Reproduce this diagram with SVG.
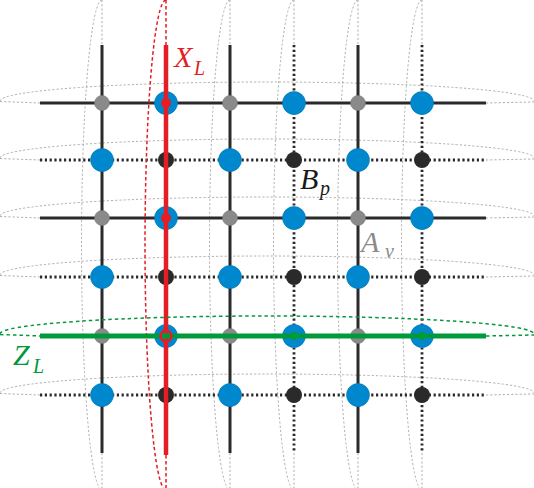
<svg xmlns="http://www.w3.org/2000/svg" width="534" height="488" viewBox="0 0 534 488">
<style>
.ell{fill:none;stroke:#9a9a9a;stroke-width:0.8;stroke-dasharray:2.2 2}
.ellr{fill:none;stroke:#e31e24;stroke-width:1.5;stroke-dasharray:3.5 2.5}
.ellg{fill:none;stroke:#00993c;stroke-width:1.5;stroke-dasharray:3.5 3}
.solid{stroke:#2a2a2a;stroke-width:3;fill:none}
.dot{stroke:#2a2a2a;stroke-width:2.8;fill:none;stroke-dasharray:2.2 2.6}
.b{fill:#0088cf;stroke:#0075b5;stroke-width:0.6}
.g{fill:#8a8a8a;stroke:#777;stroke-width:0.5}
.k{fill:#2a2a2a}
.lbl{font-family:"Liberation Serif","DejaVu Serif",serif;font-style:italic}
</style>
<g id="cycles">
<path class="ell" d="M0,101 A267,19 0 0,1 534,101 M0,101.5 L40,103 M486,103 L534,102"/>
<path class="ell" d="M0,158 A267,19 0 0,1 534,158 M0,158.5 L40,160 M486,160 L534,159"/>
<path class="ell" d="M0,216 A267,19 0 0,1 534,216 M0,216.5 L40,218 M486,218 L534,217"/>
<path class="ell" d="M0,275 A267,19 0 0,1 534,275 M0,275.5 L40,277 M486,277 L534,276"/>
<path class="ell" d="M0,393 A267,19 0 0,1 534,393 M0,393.5 L40,395 M486,395 L534,394"/>
<path class="ell" d="M102,0 A20.5,245 0 0,0 102,490 M102,0 L102,45 M102,453 L102,488"/>
<path class="ell" d="M230,0 A20.5,245 0 0,0 230,490 M230,0 L230,45 M230,453 L230,488"/>
<path class="ell" d="M294,0 A20.5,245 0 0,0 294,490 M294,0 L294,45 M294,453 L294,488"/>
<path class="ell" d="M358,0 A20.5,245 0 0,0 358,490 M358,0 L358,45 M358,453 L358,488"/>
<path class="ell" d="M422,0 A20.5,245 0 0,0 422,490 M422,0 L422,45 M422,453 L422,488"/>
</g>
<g id="connectors">
<line class="solid" x1="40" y1="103" x2="486" y2="103"/>
<line class="dot" x1="40" y1="160" x2="486" y2="160"/>
<line class="solid" x1="40" y1="218" x2="486" y2="218"/>
<line class="dot" x1="40" y1="277" x2="486" y2="277"/>
<line class="solid" x1="40" y1="336" x2="486" y2="336"/>
<line class="dot" x1="40" y1="395" x2="486" y2="395"/>
<line class="solid" x1="102" y1="45" x2="102" y2="453"/>
<line class="dot" x1="166" y1="45" x2="166" y2="453"/>
<line class="solid" x1="230" y1="45" x2="230" y2="453"/>
<line class="dot" x1="294" y1="45" x2="294" y2="453"/>
<line class="solid" x1="358" y1="45" x2="358" y2="453"/>
<line class="dot" x1="422" y1="45" x2="422" y2="453"/>
</g>
<g id="nodes">
<g id="row1"><circle class="g" cx="102" cy="103" r="7.5"/><circle class="b" cx="166" cy="103" r="11.5"/><circle class="g" cx="230" cy="103" r="7.5"/><circle class="b" cx="294" cy="103" r="11.5"/><circle class="g" cx="358" cy="103" r="7.5"/><circle class="b" cx="422" cy="103" r="11.5"/></g>
<g id="row2"><circle class="b" cx="102" cy="160" r="11.5"/><circle class="k" cx="166" cy="160" r="8"/><circle class="b" cx="230" cy="160" r="11.5"/><circle class="k" cx="294" cy="160" r="8"/><circle class="b" cx="358" cy="160" r="11.5"/><circle class="k" cx="422" cy="160" r="8"/></g>
<g id="row3"><circle class="g" cx="102" cy="218" r="7.5"/><circle class="b" cx="166" cy="218" r="11.5"/><circle class="g" cx="230" cy="218" r="7.5"/><circle class="b" cx="294" cy="218" r="11.5"/><circle class="g" cx="358" cy="218" r="7.5"/><circle class="b" cx="422" cy="218" r="11.5"/></g>
<g id="row4"><circle class="b" cx="102" cy="277" r="11.5"/><circle class="k" cx="166" cy="277" r="8"/><circle class="b" cx="230" cy="277" r="11.5"/><circle class="k" cx="294" cy="277" r="8"/><circle class="b" cx="358" cy="277" r="11.5"/><circle class="k" cx="422" cy="277" r="8"/></g>
<g id="row5"><circle class="g" cx="102" cy="336" r="7.5"/><circle class="b" cx="166" cy="336" r="11.5"/><circle class="g" cx="230" cy="336" r="7.5"/><circle class="b" cx="294" cy="336" r="11.5"/><circle class="g" cx="358" cy="336" r="7.5"/><circle class="b" cx="422" cy="336" r="11.5"/></g>
<g id="row6"><circle class="b" cx="102" cy="395" r="11.5"/><circle class="k" cx="166" cy="395" r="8"/><circle class="b" cx="230" cy="395" r="11.5"/><circle class="k" cx="294" cy="395" r="8"/><circle class="b" cx="358" cy="395" r="11.5"/><circle class="k" cx="422" cy="395" r="8"/></g>
</g>
<g id="XL">
<path class="ellr" d="M166,0 A21,245 0 0,0 166,490 M166,0 L166,45 M166,455 L166,488"/>
<line x1="166" y1="45" x2="166" y2="455" stroke="#e31e24" stroke-width="4.5"/>
<circle cx="166" cy="103" r="5" fill="#e31e24"/>
<circle cx="166" cy="218" r="5" fill="#e31e24"/>
<text class="lbl" x="174" y="67" font-size="30" fill="#e31e24">X</text>
<text class="lbl" x="194" y="75" font-size="20" fill="#e31e24">L</text>
</g>
<g id="ZL">
<path class="ellg" d="M0,334 A267,18 0 0,1 534,334 M0,334.5 L40,336 M486,336 L534,335"/>
<line x1="40" y1="336" x2="486" y2="336" stroke="#00993c" stroke-width="5"/>
<circle cx="294" cy="336" r="4" fill="#00993c"/>
<circle cx="422" cy="336" r="4" fill="#00993c"/>
<circle cx="166" cy="336" r="5.5" fill="none" stroke="#e31e24" stroke-width="2.5"/>
<circle cx="166" cy="336" r="3" fill="#00993c"/>
<text class="lbl" x="13" y="365" font-size="30" fill="#00993c">Z</text>
<text class="lbl" x="33" y="373" font-size="20" fill="#00993c">L</text>
</g>
<g id="Bp">
<text class="lbl" x="300" y="189" font-size="30" fill="#1a1a1a">B</text>
<text class="lbl" x="320" y="195" font-size="20" fill="#1a1a1a">p</text>
</g>
<g id="Av">
<text class="lbl" x="361" y="252" font-size="30" fill="#8a8a8a">A</text>
<text class="lbl" x="385" y="258" font-size="20" fill="#8a8a8a">v</text>
</g>
</svg>
